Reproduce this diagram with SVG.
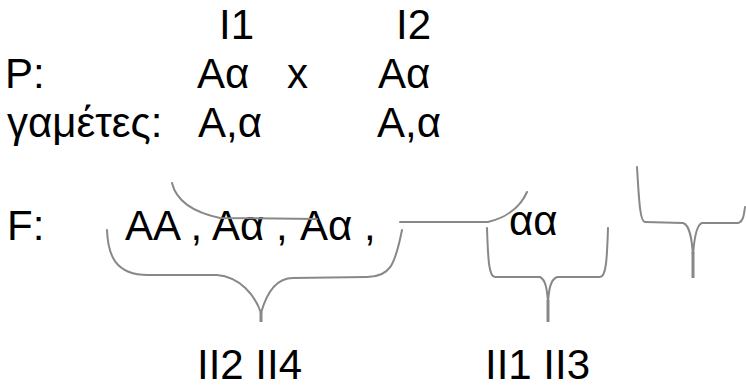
<svg xmlns="http://www.w3.org/2000/svg" width="746" height="387" viewBox="0 0 746 387">
<style>
.t{font-family:"Liberation Sans",Arial,sans-serif;font-size:42px;fill:#000}
.b{fill:none;stroke:#888;stroke-width:2;stroke-linecap:round;stroke-linejoin:round}
.s{fill:none;stroke:#888;stroke-width:3}
</style>
<rect width="746" height="387" fill="#fff"/>
<g id="labels">
<text class="t" x="219" y="39">I1</text>
<text class="t" x="396" y="39">I2</text>
<text class="t" x="5" y="88">P:</text>
<text class="t" x="197" y="88">Aα</text>
<text class="t" x="287" y="88">x</text>
<text class="t" x="378" y="88">Aα</text>
<text class="t" x="7" y="137">γαμέτες:</text>
<text class="t" x="198" y="137">A,α</text>
<text class="t" x="377" y="137">A,α</text>
<text class="t" x="7" y="240">F:</text>
</g>
<g id="offspring">
<text class="t" x="125" y="240">AA ,</text>
<text class="t" x="212" y="240">Aα ,</text>
<text class="t" x="300" y="240">Aα ,</text>
<text class="t" x="509" y="235">αα</text>
</g>
<g id="groups">
<text class="t" x="197" y="379">II2 II4</text>
<text class="t" x="485" y="379">II1 II3</text>
</g>
<g id="connectors">
<path class="b" d="M172,183 C176,200 192,212 220,218 L317,219"/>
<path class="b" d="M400,222 L488,222 C505,218 520,208 527,192"/>
<path class="b" d="M107,230 C108,255 115,275 148,275 L217,275 C240,277 255,295 261,313 C266,295 275,278 293,278 L367,277 C390,277 395,265 402,230"/>
<line class="s" x1="261" y1="312" x2="261" y2="322"/>
<path class="b" d="M487,228 C488,260 489,277 495,277 L540,277 C546,280 547,290 548,302 C549,290 550,280 557,277 L600,277 C606,277 607,260 608,228"/>
<line class="s" x1="548" y1="300" x2="548" y2="322"/>
<path class="b" d="M637,167 C639,200 640,222 645,222 L683,223 C690,225 692,240 693,256 C694,240 696,225 702,223 L738,223 C743,222 744,215 745,207"/>
<line class="s" x1="693" y1="252" x2="693" y2="278"/>
</g>
</svg>
